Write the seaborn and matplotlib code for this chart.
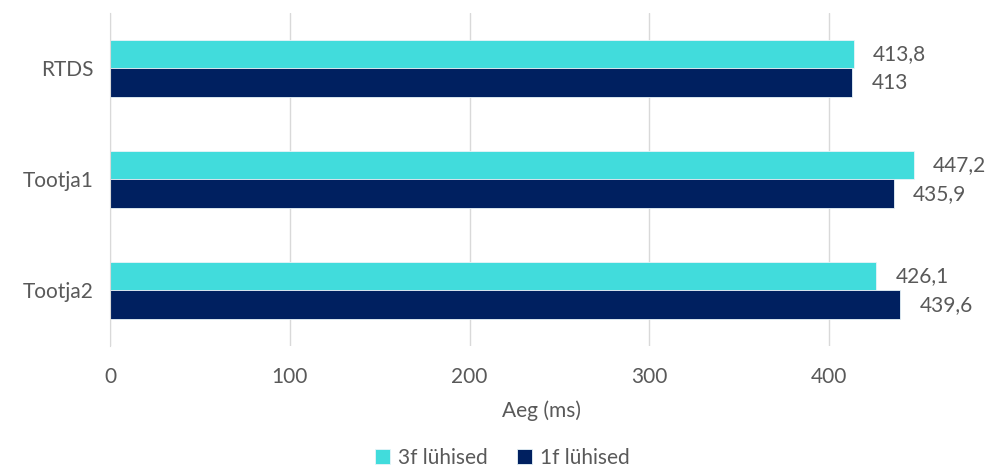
import pandas as pd
import seaborn as sns
import matplotlib.pyplot as plt

categories = ["RTDS", "Tootja1", "Tootja2"]
series = ["3f lühised", "1f lühised"]
values_3f = [413.8, 447.2, 426.1]
values_1f = [413.0, 435.9, 439.6]
x_ticks = [0, 100, 200, 300, 400]

df = pd.DataFrame({
    "kategooria": categories * 2,
    "seeria": [series[0]] * 3 + [series[1]] * 3,
    "aeg": values_3f + values_1f,
})

sns.set_style("white")
plt.rcParams["font.family"] = ["Lato", "DejaVu Sans"]
grey = "#595959"
fs = 15

fig = plt.figure(figsize=(9.86, 4.69), dpi=100)
ax = fig.add_axes([0.1116, 0.2623, 0.875, 0.71])

sns.barplot(data=df, y="kategooria", x="aeg", hue="seeria", orient="h",
            palette=["#41DCDC", "#002060"], saturation=1, width=0.52,
            errorbar=None, edgecolor="#E8F4F8", linewidth=0.6, ax=ax)

# andmesildid koma-eraldajaga
for cont in ax.containers:
    labels = [f"{v:g}".replace(".", ",") for v in cont.datavalues]
    ax.bar_label(cont, labels=labels, padding=14, fontsize=fs, color=grey)

ax.set_xlim(0, 480)
ax.set_xticks(x_ticks)
ax.xaxis.grid(True, color="#D9D9D9", linewidth=1)
ax.set_axisbelow(True)
for s in ["top", "right", "bottom"]:
    ax.spines[s].set_visible(False)
ax.spines["left"].set_color("#D9D9D9")
ax.tick_params(axis="both", length=0, labelsize=fs, labelcolor=grey)
ax.tick_params(axis="x", pad=15)
ax.tick_params(axis="y", pad=12)
ax.set_ylabel("")
ax.set_xlabel("Aeg (ms)", fontsize=fs, color=grey, labelpad=10)

ax.legend(loc="center", bbox_to_anchor=(0.455, -0.335), ncol=2,
          frameon=False, fontsize=fs, labelcolor=grey, handlelength=0.7,
          handleheight=0.7, handletextpad=0.4, columnspacing=1.4)

plt.savefig("out.png", dpi=100)
